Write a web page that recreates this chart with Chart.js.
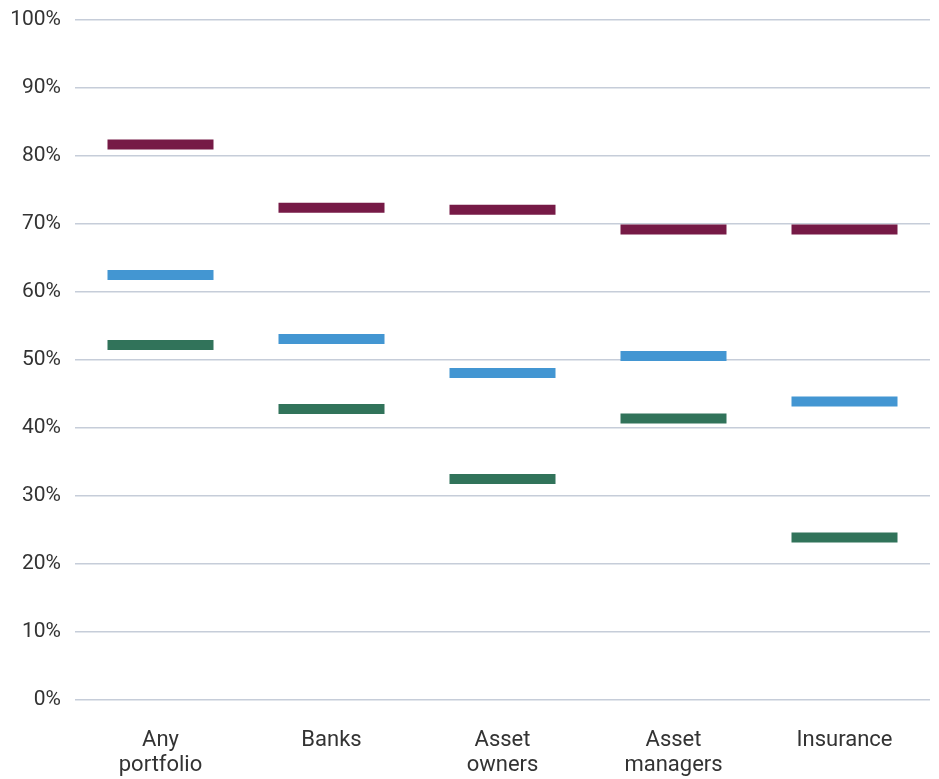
<!DOCTYPE html>
<html>
<head>
<meta charset="utf-8">
<script src="https://cdn.jsdelivr.net/npm/chart.js@4"></script>
<style>
  html, body { margin: 0; padding: 0; background: #fff; }
  #wrap { width: 939px; height: 779px; }
</style>
</head>
<body>
<div id="wrap"><canvas id="chart"></canvas></div>
<script>
// --- Data ---
const categories = [['Any', 'portfolio'], 'Banks', ['Asset', 'owners'], ['Asset', 'managers'], 'Insurance'];
const topSeries = [81.7, 72.4, 72.1, 69.2, 69.2];
const midSeries = [62.5, 53.1, 48.1, 50.6, 43.9];
const lowSeries = [52.2, 42.8, 32.5, 41.4, 23.9];
const yTicks = [0, 10, 20, 30, 40, 50, 60, 70, 80, 90, 100];

// --- Styles ---
const COLORS = { top: '#761a46', mid: '#4396d2', low: '#31735a' };
const GRID_COLOR = '#c6cdd9';
const TEXT_COLOR = '#333333';

function markerSet(label, values, color) {
    return {
        label: label,
        data: values,
        showLine: false,
        clip: false,
        pointStyle: 'line',
        pointRadius: 53,
        pointHoverRadius: 53,
        pointBorderWidth: 10,
        pointHoverBorderWidth: 10,
        borderColor: color,
        backgroundColor: color
    };
}

const ctx = document.getElementById('chart').getContext('2d');
new Chart(ctx, {
    type: 'line',
    data: {
        labels: categories,
        datasets: [
            markerSet('Top', topSeries, COLORS.top),
            markerSet('Middle', midSeries, COLORS.mid),
            markerSet('Low', lowSeries, COLORS.low)
        ]
    },
    options: {
        responsive: true,
        maintainAspectRatio: false,
        animation: false,
        layout: { autoPadding: false, padding: { top: 20, right: 9, left: 0, bottom: 0 } },
        plugins: { legend: { display: false }, tooltip: { enabled: false } },
        scales: {
            x: {
                offset: true,
                grid: { display: false, drawTicks: false },
                border: { display: false },
                ticks: {
                    color: TEXT_COLOR,
                    font: { family: 'Roboto', size: 22, lineHeight: 1.15 },
                    padding: 28,
                    maxRotation: 0,
                    autoSkip: false
                },
                afterFit: s => { s.height = 79; s.paddingLeft = 0; s.paddingRight = 0; }
            },
            y: {
                min: 0,
                max: 100,
                afterBuildTicks: s => { s.ticks = yTicks.map(v => ({ value: v })); },
                grid: { color: GRID_COLOR, lineWidth: 1.5, drawTicks: false },
                border: { display: false },
                ticks: {
                    color: TEXT_COLOR,
                    font: { family: 'Roboto', size: 21 },
                    padding: 14,
                    callback: v => v + '%'
                },
                afterFit: s => { s.width = 75; s.paddingTop = 0; s.paddingBottom = 0; }
            }
        }
    }
});
</script>
</body>
</html>
